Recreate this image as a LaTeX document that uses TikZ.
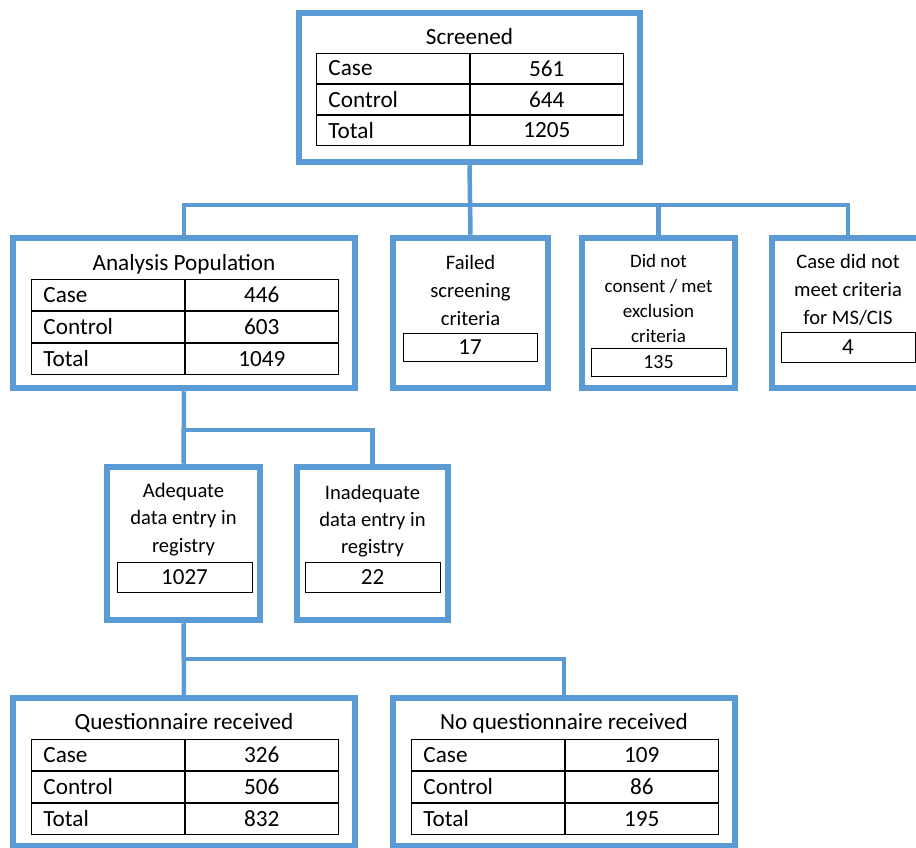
\documentclass[tikz,border=0pt]{standalone}
\usepackage{fontspec}
\setmainfont{Carlito}
\definecolor{boxblue}{RGB}{91,155,213}
\tikzset{
  x=1pt,y=-1pt,
  obox/.style={draw=boxblue,line width=6.5pt,line join=miter,rectangle,inner sep=0pt},
  conn/.style={draw=boxblue,line width=4.5pt},
  lcell/.style={draw=black,line width=0.9pt,rectangle,inner xsep=12pt,inner ysep=0pt,text width=129pt,align=left,font=\fontsize{23.2}{26}\selectfont},
  rcell/.style={draw=black,line width=0.9pt,rectangle,inner xsep=12pt,inner ysep=0pt,text width=129pt,align=center,font=\fontsize{23.2}{26}\selectfont},
  vbox/.style={draw=black,line width=0.9pt,rectangle,inner sep=0pt,font=\fontsize{23}{26}\selectfont},
  ttl/.style={font=\fontsize{23.2}{26}\selectfont,inner sep=0pt},
  mtxt/.style={align=center,inner sep=0pt},
}
\newcommand\mktable[7]{%
  \node[lcell,minimum height=#7,anchor=north west] (#1-l1) at (#2,#3) {Case};
  \node[rcell,minimum height=#7,anchor=north west] (#1-r1) at (#1-l1.north east) {#4};
  \node[lcell,minimum height=#7,anchor=north west] (#1-l2) at (#1-l1.south west) {Control};
  \node[rcell,minimum height=#7,anchor=north west] (#1-r2) at (#1-l2.north east) {#5};
  \node[lcell,minimum height=#7,anchor=north west] (#1-l3) at (#1-l2.south west) {Total};
  \node[rcell,minimum height=#7,anchor=north west] (#1-r3) at (#1-l3.north east) {#6};
}
\begin{document}
\begin{tikzpicture}
\useasboundingbox (0,0) rectangle (916,848);
% outer boxes
\node[obox,minimum width=341pt,minimum height=149pt] (scr) at (469.5,87.5) {};
\node[obox,minimum width=342pt,minimum height=150pt] (ap) at (184,313) {};
\node[obox,minimum width=155pt,minimum height=150pt] (fail) at (470.5,313) {};
\node[obox,minimum width=153pt,minimum height=150pt] (dnc) at (658.5,313) {};
\node[obox,minimum width=152pt,minimum height=150pt] (cdn) at (848,313) {};
\node[obox,minimum width=153pt,minimum height=153pt] (adq) at (183.5,543.5) {};
\node[obox,minimum width=151pt,minimum height=153pt] (inadq) at (372.5,543.5) {};
\node[obox,minimum width=342pt,minimum height=148pt] (qr) at (184,772) {};
\node[obox,minimum width=342pt,minimum height=148pt] (nqr) at (564,772) {};
% level coordinates
\coordinate (lv1) at (0,205);
\coordinate (lv2) at (0,430);
\coordinate (lv3) at (0,659);
% connectors
\draw[conn] (scr.south) -- (fail.north);
\draw[conn] (ap.north) |- (lv1 -| cdn.north) -- (cdn.north);
\draw[conn] (dnc.north |- lv1) -- (dnc.north);
\draw[conn] (ap.south) -- (adq.north);
\draw[conn] (adq.north |- lv2) -| (inadq.north);
\draw[conn] (adq.south) -- (qr.north);
\draw[conn] (qr.north |- lv3) -| (nqr.north);
% Screened
\node[ttl] (scrt) at (469.5,37) {Screened};
\mktable{st}{316}{53}{561}{644}{1205}{30pt}
% Analysis population
\node[ttl] (apt) at (184,264) {Analysis Population};
\mktable{at}{31}{279}{446}{603}{1049}{31pt}
% Failed screening
\node[mtxt,font=\fontsize{20.6}{28}\selectfont] (failt) at (470.5,290) {Failed\\screening\\criteria};
\node[vbox,minimum width=134pt,minimum height=28pt] (failv) at (470,347) {17};
% Did not consent
\node[mtxt,font=\fontsize{19}{25}\selectfont] (dnct) at (658.5,298.5) {Did not\\consent / met\\exclusion\\criteria};
\node[vbox,minimum width=135pt,minimum height=28pt,font=\fontsize{20}{24}\selectfont] (dncv) at (658.5,362) {135};
% Case did not meet
\node[mtxt,font=\fontsize{20.6}{28}\selectfont] (cdnt) at (848,290) {Case did not\\meet criteria\\for MS/CIS};
\node[vbox,minimum width=134pt,minimum height=30pt] (cdnv) at (848,347) {4};
% Adequate
\node[mtxt,font=\fontsize{20.6}{27.5}\selectfont] (adqt) at (183.5,519.5) {Adequate\\data entry in\\registry};
\node[vbox,minimum width=135pt,minimum height=30pt] (adqv) at (184.5,577) {1027};
% Inadequate
\node[mtxt,font=\fontsize{20.6}{27}\selectfont] (inadqt) at (372.5,521) {Inadequate\\data entry in\\registry};
\node[vbox,minimum width=135pt,minimum height=30pt] (inadqv) at (372.5,577) {22};
% Questionnaire received
\node[ttl] (qrt) at (184,723) {Questionnaire received};
\mktable{qt}{31}{739}{326}{506}{832}{31pt}
% No questionnaire received
\node[ttl] (nqrt) at (564,723) {No questionnaire received};
\mktable{nt}{411}{739}{109}{86}{195}{31pt}
\end{tikzpicture}
\end{document}
